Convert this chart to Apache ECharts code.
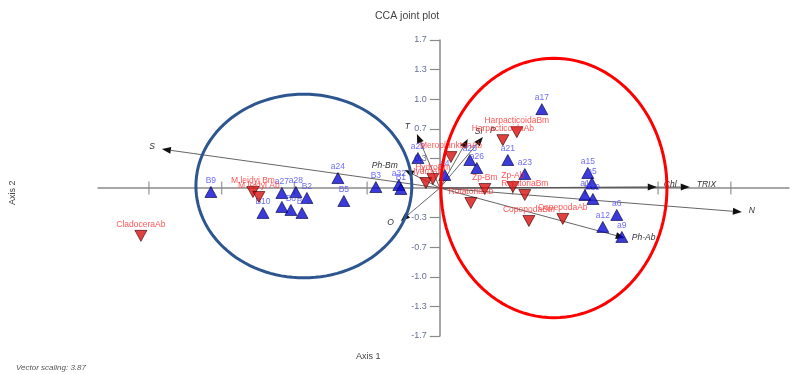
<!DOCTYPE html>
<html>
<head>
<meta charset="utf-8">
<script src="https://cdn.jsdelivr.net/npm/echarts@6/dist/echarts.min.js"></script>
<style>
html,body{margin:0;padding:0;background:#fff;}
#chart{width:796px;height:374px;}
</style>
</head>
<body>
<div id="chart"></div>
<script>
// ---- Data ----
const siteNames = ['B9','B10','a27','a28','B2','','B8','B4','B5','a24','B3','a32','B1','a22','a4','a25','a26','a21','a23','a17','a15','a5','a1','a19','a6','a12','a9'];
const siteX = [-1.574,-1.216,-1.086,-0.990,-0.914,-1.086,-1.024,-0.948,-0.660,-0.701,-0.440,-0.282,-0.268,-0.151,0.034,0.206,0.254,0.467,0.584,0.701,1.017,1.045,0.997,1.052,1.216,1.120,1.251];
const siteY = [-0.045,-0.281,-0.056,-0.045,-0.112,-0.213,-0.247,-0.281,-0.146,0.112,0.011,0.034,-0.011,0.337,0.146,0.315,0.225,0.315,0.157,0.888,0.169,0.056,-0.079,-0.124,-0.303,-0.438,-0.551];

const speciesNames = ['CladoceraAb','M.leidyi Bm','M.leidyi Ab','HydroAb','HydroBm','MeroplanktonAb','RotatoriaAb','Zp-Bm','Zp-Ab','RotatoriaBm','CopepodaBm','CopepodaAb','HarpacticoidaAb','HarpacticoidaBm'];
const speciesX = [-2.055,-1.285,-1.244,-0.096,-0.048,0.076,0.213,0.309,0.502,0.584,0.612,0.845,0.433,0.529];
const speciesY = [-0.539,-0.045,-0.101,0.056,0.101,0.348,-0.169,-0.011,0.011,-0.079,-0.371,-0.348,0.539,0.629];

const vectorNames = ['S','N','TRIX','Chl','Ph-Ab','O','Ph-Bm','T','Si','P'];
const vectorX = [-1.911,2.076,1.718,1.491,1.271,-0.268,-0.241,-0.158,0.192,0.296];
const vectorY = [0.438,-0.270,0.011,0.011,-0.562,-0.371,0.202,0.607,0.551,0.573];

const xTickValues = [-2,-1.5,-1,-0.5,0.5,1,1.5,2];
const yTickValues = [-5/3,-4/3,-1,-2/3,-1/3,1/3,2/3,1,4/3,5/3];
const yTickLabels = ['-1.7','-1.3','-1.0','-0.7','-0.3','0.3','0.7','1.0','1.3','1.7'];

// ellipses (annotation): centre x, centre y, radius x, radius y in data units
const ellipseBlue = [-0.935, 0.022, 0.742, 1.034];
const ellipseRed  = [0.784, 0.0, 0.777, 1.461];

const FONT = 'Liberation Sans, Arial, sans-serif';

const chart = echarts.init(document.getElementById('chart'), null, {renderer:'canvas'});

function ellipseSeries(e, color){
  return {
    type:'custom', silent:true, z:20,
    data:[e],
    renderItem:function(params, api){
      const cx=api.value(0), cy=api.value(1), rx=api.value(2), ry=api.value(3);
      const pts=[];
      for(let i=0;i<=120;i++){
        const a=i/120*Math.PI*2;
        pts.push(api.coord([cx+rx*Math.cos(a), cy+ry*Math.sin(a)]));
      }
      return {type:'polyline', shape:{points:pts}, style:{stroke:color, lineWidth:3, fill:null}};
    }
  };
}

const option = {
  animation:false,
  backgroundColor:'#fff',
  grid:{left:98, right:7, top:40, bottom:38},
  xAxis:{
    type:'value', min:-2.35, max:2.4,
    axisLine:{onZero:true, lineStyle:{color:'#8a8a8a', width:1.5}},
    axisTick:{show:false}, axisLabel:{show:false}, splitLine:{show:false}
  },
  yAxis:{
    type:'value', min:-5/3, max:5/3,
    axisLine:{onZero:true, lineStyle:{color:'#8a8a8a', width:1.5}},
    axisTick:{show:true, length:10, customValues:yTickValues, lineStyle:{color:'#8a8a8a', width:1.2}},
    axisLabel:{show:false},
    splitLine:{show:false}
  },
  graphic:[
    {type:'text', left:375, top:11, style:{text:'CCA joint plot', fontSize:10.5, fontFamily:FONT, fill:'#444'}},
    {type:'text', left:356, top:352, style:{text:'Axis 1', fontSize:9, fontFamily:FONT, fill:'#444'}},
    {type:'text', x:8, y:205, rotation:Math.PI/2, style:{text:'Axis 2', fontSize:9, fontFamily:FONT, fill:'#444'}},
    {type:'text', left:16, top:364, style:{text:'Vector scaling: 3.87', fontSize:8, fontStyle:'italic', fontFamily:FONT, fill:'#555'}}
  ],
  series:[
    { // x-axis ticks crossing the axis
      type:'scatter', silent:true, z:1,
      symbol:'rect', symbolSize:[1.4,13],
      itemStyle:{color:'#8a8a8a'},
      data:xTickValues.map(v=>[v,0])
    },
    { // y-axis tick labels, placed left of the zero-crossing axis
      type:'scatter', silent:true, z:1,
      symbolSize:0,
      itemStyle:{color:'#3d4a78'},
      label:{show:true, position:'left', distance:13, fontSize:9, fontFamily:FONT, color:'#3d4a78',
        formatter:function(p){return p.data[2];}},
      data:yTickValues.map((v,i)=>[0, v, yTickLabels[i]])
    },
    { // environmental vectors
      type:'custom', silent:true, z:3,
      data:vectorX.map((x,i)=>[x, vectorY[i], vectorNames[i]]),
      renderItem:function(params, api){
        const p0=api.coord([0,0]);
        const p1=api.coord([api.value(0), api.value(1)]);
        const dx=p1[0]-p0[0], dy=p1[1]-p0[1];
        const L=Math.sqrt(dx*dx+dy*dy); const ux=dx/L, uy=dy/L;
        const hl=9, hw=3.5;
        const bx=p1[0]-ux*hl, by=p1[1]-uy*hl;
        const name=vectorNames[params.dataIndex];
        const tx=p1[0]+(ux>=0?7:-7);
        const ty=p1[1]+uy*6-2;
        return {type:'group', children:[
          {type:'line', shape:{x1:p0[0],y1:p0[1],x2:bx,y2:by}, style:{stroke:'#555', lineWidth:0.9}},
          {type:'polygon', shape:{points:[[p1[0],p1[1]],[bx-uy*hw,by+ux*hw],[bx+uy*hw,by-ux*hw]]}, style:{fill:'#111'}},
          {type:'text', style:{x:tx, y:ty, text:name, fontSize:8.5, fontStyle:'italic', fontFamily:FONT, fill:'#333',
            align:(ux>=0?'left':'right'), verticalAlign:'middle'}}
        ]};
      }
    },
    { // sites
      type:'scatter', z:5,
      symbol:'triangle', symbolSize:[12,11],
      itemStyle:{color:'#0a0ad2', borderColor:'#00003a', borderWidth:0.8},
      label:{show:true, position:'top', distance:1, fontSize:8.5, fontFamily:FONT, color:'#4848f5',
        formatter:function(p){return p.data[2];}},
      data:siteX.map((x,i)=>[x, siteY[i], siteNames[i]])
    },
    { // species
      type:'scatter', z:6,
      symbol:'triangle', symbolRotate:180, symbolSize:[12,11],
      itemStyle:{color:'#d81010', borderColor:'#3a0000', borderWidth:0.8},
      label:{show:true, position:'top', distance:1, fontSize:8.5, fontFamily:FONT, color:'#ff2a2a',
        formatter:function(p){return p.data[2];}},
      data:speciesX.map((x,i)=>[x, speciesY[i], speciesNames[i]])
    },
    ellipseSeries(ellipseBlue, '#2d5590'),
    ellipseSeries(ellipseRed, '#ff0000')
  ]
};
chart.setOption(option);
</script>
</body>
</html>
